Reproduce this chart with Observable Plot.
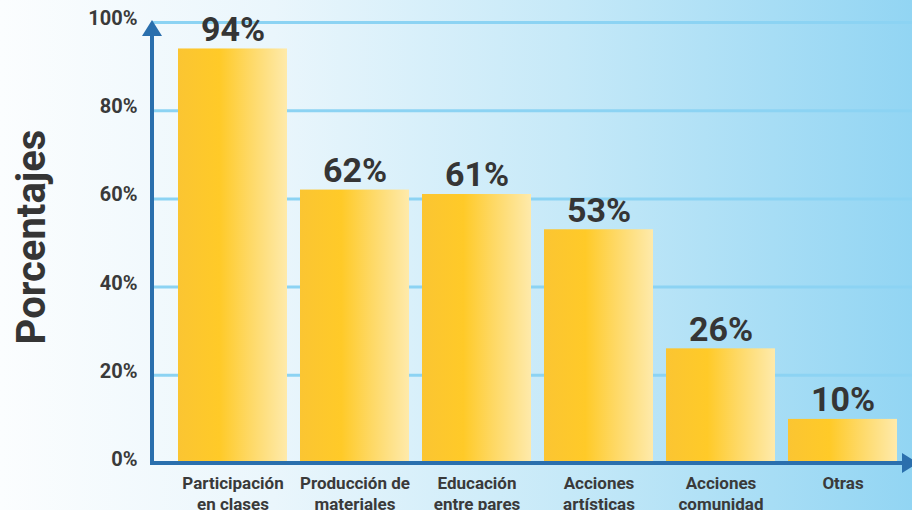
<!DOCTYPE html>
<html>
<head>
<meta charset="utf-8">
<script src="https://cdn.jsdelivr.net/npm/d3@7"></script>
<script src="https://cdn.jsdelivr.net/npm/@observablehq/plot@0.6"></script>
<style>
  html, body { margin: 0; padding: 0; }
  body { width: 912px; height: 510px; overflow: hidden; }
</style>
</head>
<body>
<div id="chart"></div>
<script>
const categories = ["Participación en clases", "Producción de materiales", "Educación entre pares", "Acciones artísticas", "Acciones comunidad", "Otras"];
const tickLabels = ["Participación\nen clases", "Producción de\nmateriales", "Educación\nentre pares", "Acciones\nartísticas", "Acciones\ncomunidad", "Otras"];
const values = [94, 62, 61, 53, 26, 10];
const yTicks = [0, 20, 40, 60, 80, 100];
const yTitle = "Porcentajes";

const data = categories.map((c, i) => ({category: c, value: values[i]}));
const axisBlue = "#2a6fad";

function axesMark(index, scales, values, dims) {
  const g = d3.create("svg:g");
  const defs = g.append("defs");
  const grad = defs.append("linearGradient").attr("id", "barGrad")
    .attr("x1", "0").attr("x2", "1").attr("y1", "0").attr("y2", "0");
  [["0%", "#fbc532"], ["38%", "#ffca28"], ["65%", "#fed863"], ["100%", "#feeaab"]]
    .forEach(([o, c]) => grad.append("stop").attr("offset", o).attr("stop-color", c));
  const x0 = dims.marginLeft;
  const yb = scales.y(0), yt = scales.y(100);
  const xr = dims.width;
  g.append("line").attr("x1", x0).attr("x2", x0).attr("y1", yb + 2).attr("y2", yt + 12)
    .attr("stroke", axisBlue).attr("stroke-width", 4);
  g.append("path").attr("d", `M${x0},${yt - 2}L${x0 - 10},${yt + 14}L${x0 + 10},${yt + 14}Z`).attr("fill", axisBlue);
  g.append("line").attr("x1", x0 - 2).attr("x2", xr - 8).attr("y1", yb).attr("y2", yb)
    .attr("stroke", axisBlue).attr("stroke-width", 4);
  g.append("path").attr("d", `M${xr + 6},${yb}L${xr - 10},${yb - 10}L${xr - 10},${yb + 10}Z`).attr("fill", axisBlue);
  return g.node();
}

const plot = Plot.plot({
  width: 912,
  height: 510,
  marginLeft: 152,
  marginRight: 0,
  marginTop: 22,
  marginBottom: 47,
  style: {
    background: "linear-gradient(to right, #fbfdfe 0%, #eaf6fc 30%, #c6e9f8 62%, #92d5f3 100%)",
    fontFamily: "Roboto, sans-serif",
    overflow: "visible"
  },
  x: {domain: categories, paddingInner: 0.11, paddingOuter: 0.16, align: 0.62, label: null},
  y: {domain: [0, 100], label: null},
  marks: [
    Plot.ruleY(yTicks.filter(d => d > 0), {stroke: "#8cd3f3", strokeWidth: 3}),
    Plot.barY(data, {x: "category", y: "value", fill: "url(#barGrad)"}),
    Plot.text(data, {
      x: "category", y: "value", text: d => d.value + "%",
      dy: -8, lineAnchor: "bottom", fontSize: 34, fontWeight: 700, fill: "#353535"
    }),
    Plot.axisY({
      ticks: yTicks, tickSize: 0, tickPadding: 15, tickFormat: d => d + "%",
      fontSize: 20, fontWeight: 700, color: "#3a3a3a", dy: -4, label: null
    }),
    Plot.axisX({
      tickSize: 0, tickPadding: 10, lineAnchor: "top", lineHeight: 1.25,
      tickFormat: d => tickLabels[categories.indexOf(d)],
      fontSize: 17, fontWeight: 700, color: "#3a3a3a", label: null
    }),
    Plot.text([yTitle], {
      frameAnchor: "left", text: d => d, rotate: -90, textAnchor: "middle",
      dx: -120, dy: -6, fontSize: 40, fontWeight: 700, fill: "#353535"
    }),
    axesMark
  ]
});
document.getElementById("chart").appendChild(plot);
</script>
</body>
</html>
